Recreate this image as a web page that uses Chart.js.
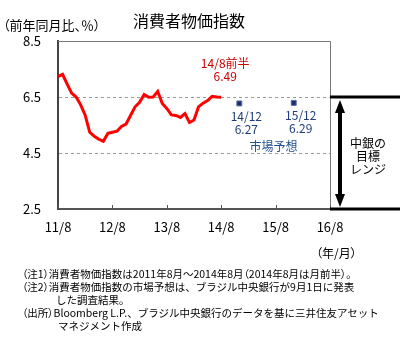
<!DOCTYPE html>
<html>
<head>
<meta charset="utf-8">
<script src="https://cdn.jsdelivr.net/npm/chart.js@4/dist/chart.umd.min.js"></script>
<style>
  body { margin: 0; background: #fff; }
  #wrap { position: relative; width: 411px; height: 339px; font-family: "Noto Sans CJK JP", sans-serif; }
  #c { position: absolute; left: 0; top: 0; }
  .t { position: absolute; white-space: nowrap; color: #000; line-height: 1; font-feature-settings: "palt"; }
  .notes { left: 22px; top: 267px; font-size: 10.5px; line-height: 13px; font-feature-settings: normal; }
  .notes .p { font-feature-settings: "palt"; }
</style>
</head>
<body>
<div id="wrap">
  <canvas id="c" width="411" height="339"></canvas>
  <div class="t" style="left:0;width:378px;top:12px;text-align:center;font-size:16px;">消費者物価指数</div>
  <div class="t" style="left:3px;top:18px;font-size:13px;">（前年同月比、％）</div>
  <div class="t" style="left:316px;top:247px;font-size:12px;">（年/月）</div>
  <div class="t notes">
    <span class="p">（注1）</span>消費者物価指数は2011年8月～2014年8月<span class="p">（</span>2014年8月は月前半<span class="p">）</span>。<br>
    <span class="p">（注2）</span>消費者物価指数の市場予想は、ブラジル中央銀行が9月1日に発表<br>
    <span style="padding-left:34px">した調査結果。</span><br>
    <span class="p">（出所）</span>Bloomberg L.P.、ブラジル中央銀行のデータを基に三井住友アセット<br>
    <span style="padding-left:36px">マネジメント作成</span>
  </div>
</div>
<script>
// monthly CPI, 2011/8 .. 2014/8 (last = first half of Aug 2014)
const startMonth = '11/8';
const cpi = [7.23, 7.31, 6.97, 6.64, 6.50, 6.22, 5.85, 5.24, 5.10, 4.99, 4.92, 5.20,
             5.24, 5.28, 5.45, 5.53, 5.84, 6.15, 6.31, 6.59, 6.49, 6.50, 6.70, 6.27,
             6.09, 5.86, 5.84, 5.77, 5.91, 5.59, 5.68, 6.15, 6.28, 6.37, 6.52, 6.50, 6.49];
const forecastLabels = ['14/12', '15/12'];
const forecastValues = [6.27, 6.29];
const xTickLabels = ['11/8', '12/8', '13/8', '14/8', '15/8', '16/8'];
const yTicks = [2.5, 4.5, 6.5, 8.5];
const targetRange = [2.5, 6.5];

// "yy/m" -> months since start
function monthIndex(label) {
    const [y0, m0] = startMonth.split('/').map(Number);
    const [y, m] = label.split('/').map(Number);
    return (y - y0) * 12 + (m - m0);
}

const font = '"Noto Sans CJK JP", sans-serif';

const overlay = {
    id: 'overlay',
    afterDraw(chart) {
        const ctx = chart.ctx;
        const a = chart.chartArea;
        const xs = chart.scales.x, ys = chart.scales.y;
        ctx.save();

        // top + right frame
        ctx.strokeStyle = '#777';
        ctx.lineWidth = 1;
        ctx.beginPath();
        ctx.moveTo(a.left, a.top + 0.5);
        ctx.lineTo(a.right + 0.5, a.top + 0.5);
        ctx.lineTo(a.right + 0.5, a.bottom);
        ctx.stroke();

        // small inner ticks on the x axis
        ctx.strokeStyle = '#555';
        xTickLabels.forEach(l => {
            const px = Math.round(xs.getPixelForValue(monthIndex(l))) + 0.5;
            ctx.beginPath();
            ctx.moveTo(px, a.bottom);
            ctx.lineTo(px, a.bottom - 4);
            ctx.stroke();
        });

        // target range lines + arrow
        const yHi = ys.getPixelForValue(targetRange[1]);
        const yLo = ys.getPixelForValue(targetRange[0]);
        ctx.strokeStyle = '#000';
        ctx.lineWidth = 3;
        [yHi, yLo].forEach(py => {
            ctx.beginPath();
            ctx.moveTo(a.right, py);
            ctx.lineTo(a.right + 70, py);
            ctx.stroke();
        });
        const ax = a.right + 10;
        ctx.lineWidth = 4;
        ctx.beginPath();
        ctx.moveTo(ax, yHi + 12);
        ctx.lineTo(ax, yLo - 12);
        ctx.stroke();
        ctx.fillStyle = '#000';
        ctx.beginPath();
        ctx.moveTo(ax, yHi + 3); ctx.lineTo(ax - 5, yHi + 16); ctx.lineTo(ax + 5, yHi + 16);
        ctx.closePath(); ctx.fill();
        ctx.beginPath();
        ctx.moveTo(ax, yLo - 2); ctx.lineTo(ax - 5, yLo - 15); ctx.lineTo(ax + 5, yLo - 15);
        ctx.closePath(); ctx.fill();

        ctx.textAlign = 'center';
        ctx.textBaseline = 'middle';
        ctx.font = '12px ' + font;
        const mid = ys.getPixelForValue((targetRange[0] + targetRange[1]) / 2);
        ctx.fillText('中銀の', a.right + 38, mid - 10);
        ctx.fillText('目標', a.right + 38, mid + 3);
        ctx.fillText('レンジ', a.right + 38, mid + 16);

        // last actual value label
        const last = chart.getDatasetMeta(0).data[cpi.length - 1];
        ctx.fillStyle = '#cc0000';
        ctx.fillText('14/8前半', last.x + 4, last.y - 34);
        ctx.fillText(cpi[cpi.length - 1].toFixed(2), last.x + 4, last.y - 21);

        // forecast labels
        ctx.fillStyle = '#1f3c78';
        const pts = chart.getDatasetMeta(1).data;
        pts.forEach((p, i) => {
            ctx.fillText(forecastLabels[i], p.x + 7, p.y + 13);
            ctx.fillText(forecastValues[i].toFixed(2), p.x + 7, p.y + 26);
        });
        ctx.fillStyle = '#1f4f8f';
        ctx.fillText('市場予想', (pts[0].x + pts[1].x) / 2 + 7, pts[0].y + 43);

        ctx.restore();
    }
};

new Chart(document.getElementById('c'), {
    type: 'line',
    data: {
        datasets: [{
            data: cpi.map((v, i) => ({ x: i, y: v })),
            borderColor: '#ff0000',
            borderWidth: 3,
            pointRadius: 0,
            tension: 0,
            fill: false
        }, {
            data: forecastLabels.map((l, i) => ({ x: monthIndex(l), y: forecastValues[i] })),
            showLine: false,
            pointStyle: 'rect',
            pointRadius: 3.5,
            backgroundColor: '#1c2e6b',
            borderColor: '#5b6fa3',
            borderWidth: 1
        }]
    },
    options: {
        responsive: false,
        devicePixelRatio: 1,
        animation: false,
        layout: { padding: { top: 41, right: 81, bottom: 100, left: 0 } },
        plugins: { legend: { display: false }, tooltip: { enabled: false }, title: { display: false } },
        scales: {
            x: {
                type: 'linear',
                min: 0,
                max: monthIndex(xTickLabels[xTickLabels.length - 1]),
                afterBuildTicks: s => { s.ticks = xTickLabels.map(l => ({ value: monthIndex(l) })); },
                afterFit: s => { s.height = 30; },
                ticks: {
                    callback: (v, i) => xTickLabels[i],
                    font: { size: 13, family: font },
                    color: '#000',
                    padding: 10,
                    maxRotation: 0,
                    autoSkip: false
                },
                grid: { display: false, drawTicks: false },
                border: { color: '#555', width: 2 }
            },
            y: {
                min: yTicks[0],
                max: yTicks[yTicks.length - 1],
                afterBuildTicks: s => { s.ticks = yTicks.map(v => ({ value: v })); },
                afterFit: s => { s.width = 58; },
                ticks: {
                    callback: v => v.toFixed(1),
                    font: { size: 13, family: font },
                    color: '#000',
                    padding: 17
                },
                grid: {
                    drawTicks: false,
                    color: c => (c.tick && (c.tick.value === 4.5 || c.tick.value === 6.5)) ? '#999' : 'rgba(0,0,0,0)',
                    lineWidth: 1
                },
                border: { color: '#444', width: 2, dash: [3, 3] }
            }
        }
    },
    plugins: [overlay]
});
</script>
</body>
</html>
